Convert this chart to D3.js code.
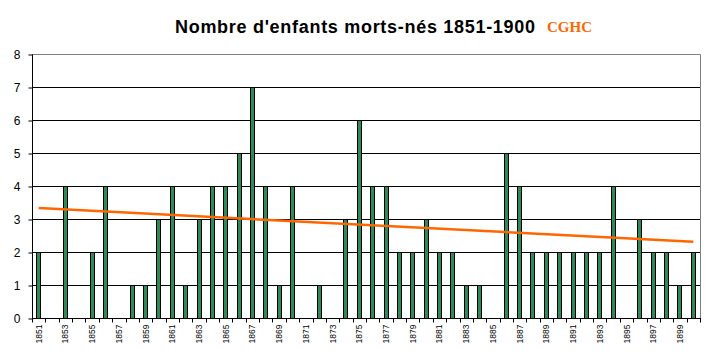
<!DOCTYPE html>
<html><head><meta charset="utf-8">
<script src="https://cdn.jsdelivr.net/npm/d3@7"></script>
<style>body{margin:0;background:#fff}svg{display:block}</style>
</head><body>
<svg id="c" width="708" height="354"></svg>
<script>
const years = d3.range(1851, 1901).map(String);
const values = [2,0,4,0,2,4,0,1,1,3,
                4,1,3,4,4,5,7,4,1,4,
                0,1,0,3,6,4,4,2,2,3,
                2,2,1,1,0,5,4,2,2,2,
                2,2,2,4,0,3,2,2,1,2];
const trendEnds = [3.33, 2.31];
const yTicks = [0,1,2,3,4,5,6,7,8];
const title = "Nombre d'enfants morts-nés 1851-1900";
const badge = "CGHC";

const svg = d3.select("#c");
const L = 32, R = 700, T = 54, B = 318;
const x = d3.scaleBand().domain(years).range([L, R]).padding(0);
const y = d3.scaleLinear().domain([0, 8]).range([B, T]);

// gridlines
svg.append("g").selectAll("line").data(yTicks.filter(v => v > 0 && v < 8)).join("line")
  .attr("x1", L).attr("x2", R).attr("y1", d => y(d) + 0.5).attr("y2", d => y(d) + 0.5)
  .attr("stroke", "#000").attr("stroke-width", 1);
// top & right border gray
svg.append("path").attr("d", `M${L},${T + 0.5}H${R + 0.5}V${B}`)
  .attr("fill", "none").attr("stroke", "#808080").attr("stroke-width", 1);

// bars
const bw = 5;
svg.append("g").selectAll("rect").data(values).join("rect")
  .attr("x", (d, i) => Math.round(x(years[i]) + x.bandwidth() / 2 - bw / 2) + 0.5)
  .attr("y", d => y(d) + 0.5)
  .attr("width", bw - 1)
  .attr("height", d => Math.max(0, y(0) - y(d)))
  .attr("fill", "#2E8B57").attr("stroke", "#000").attr("stroke-width", 1)
  .style("display", d => d > 0 ? null : "none");

// trend line
svg.append("line")
  .attr("x1", x(years[0]) + x.bandwidth() / 2).attr("y1", y(trendEnds[0]))
  .attr("x2", x(years[years.length - 1]) + x.bandwidth() / 2).attr("y2", y(trendEnds[1]))
  .attr("stroke", "#FF6600").attr("stroke-width", 2.5);

// y axis
const yAxis = d3.axisLeft(y).tickValues(yTicks).tickSize(4).tickPadding(8).tickFormat(d3.format("d"));
const ya = svg.append("g").attr("transform", `translate(${L + 0.5},0.5)`).call(yAxis);
ya.select(".domain").attr("stroke", "#000").attr("d", `M0,${T}V${B}`);
ya.selectAll(".tick line").attr("stroke", "#000");
ya.selectAll("text").attr("font-family", "Liberation Sans, Arial, sans-serif").attr("font-size", 12).attr("fill", "#000");

// x axis
const xa = svg.append("g").attr("transform", `translate(0,${B + 0.5})`);
xa.append("line").attr("x1", L).attr("x2", R + 1).attr("y1", 0).attr("y2", 0).attr("stroke", "#000");
const bounds = years.map(yv => x(yv)).concat([R]);
xa.selectAll("line.t").data(bounds).join("line").attr("class", "t")
  .attr("x1", d => Math.round(d) + 0.5).attr("x2", d => Math.round(d) + 0.5)
  .attr("y1", 0).attr("y2", 4).attr("stroke", "#000");
xa.selectAll("text").data(years.filter((d, i) => i % 2 === 0)).join("text")
  .attr("transform", d => `translate(${x(d) + x.bandwidth() / 2 + 3},6) rotate(-90)`)
  .attr("text-anchor", "end")
  .attr("font-family", "Liberation Sans, Arial, sans-serif").attr("font-size", 8.5)
  .text(d => d);

// title
svg.append("text").attr("x", 175).attr("y", 33)
  .attr("font-family", "Liberation Sans, Arial, sans-serif").attr("font-weight", "bold").attr("font-size", 18)
  .attr("textLength", 360).attr("lengthAdjust", "spacing")
  .text(title);
svg.append("text").attr("x", 547).attr("y", 32)
  .attr("font-family", "Liberation Serif, Times New Roman, serif").attr("font-weight", "bold").attr("font-size", 15)
  .attr("fill", "#FF6600").text(badge);
</script>
</body></html>
